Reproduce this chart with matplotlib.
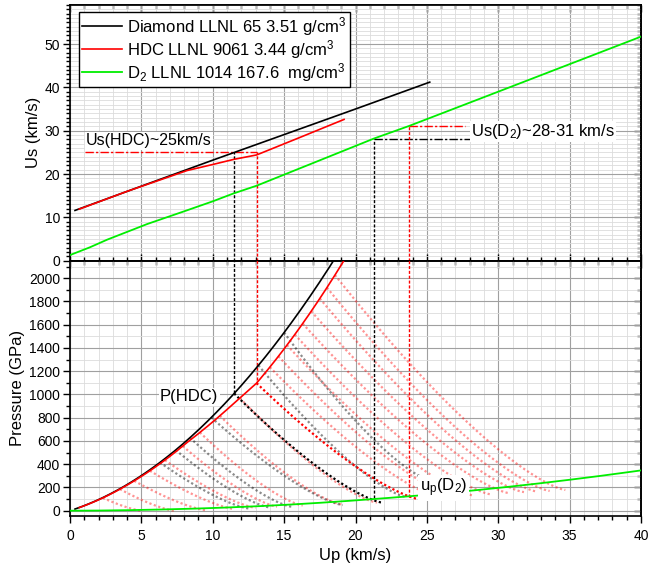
import numpy as np
import matplotlib
matplotlib.use('Agg')
import matplotlib.pyplot as plt
from matplotlib.ticker import MultipleLocator, NullFormatter

plt.rcParams['font.family'] = ['Liberation Sans', 'DejaVu Sans']
plt.rcParams['mathtext.default'] = 'regular'

# ---------------- data ----------------
dia_up = [0.35, 5, 10, 15, 20, 25.2]
dia_us = [11.6, 17.2, 23.2, 29.1, 35.0, 41.2]
dia_rho = 3.51

hdc_up = [0.65, 4, 8.2, 10, 11.5, 13.07, 16, 19.2]
hdc_us = [11.9, 16.0, 20.8, 22.2, 23.4, 24.4, 28.3, 32.6]
hdc_rho = 3.44

d2_up = [0, 1.4, 2.6, 5.4, 8, 10, 11.44, 13.07, 17, 21.3, 23.76, 30, 40]
d2_us = [1.3, 3.1, 4.85, 8.45, 11.4, 13.7, 15.5, 17.3, 22.5, 28.2, 31.1, 39.0, 51.7]
d2_rho = 0.1676

labels = ['Diamond LLNL 65 3.51 g/cm$^3$',
          'HDC LLNL 9061 3.44 g/cm$^3$',
          'D$_2$ LLNL 1014 167.6  mg/cm$^3$']

# release curves (start up on Hugoniot, end up, end pressure)
pink_u0 = [2.3, 3.5, 4.5, 5.6, 6.65, 7.9, 9.1, 10.5, 11.9, 14.0, 14.6, 15.2, 15.75, 16.3, 16.9, 17.5, 18.0, 18.56]
pink_u1 = [5.0, 7.3, 9.5, 11.5, 13.0, 14.5, 16.3, 19.0, 21.5, 26.0, 27.0, 28.3, 29.5, 30.8, 31.8, 32.7, 33.6, 34.7]
pink_p1 = [0, 0, 5, 15, 25, 35, 45, 55, 70, 110, 120, 130, 140, 150, 160, 165, 170, 178]
gray_u0 = [6.3, 7.4, 8.4, 9.9, 13.2, 15.0]
gray_u1 = [12.5, 14.0, 15.5, 19.1, 23.5, 25.2]
gray_p1 = [20, 28, 35, 49, 120, 263]
key_hdc = (13.07, 24.5, 98)
key_dia = (11.5, 21.9, 69)

# marker lines
us_hdc_level = 25.0
hdc_cross_up = 13.07
dia_cross_up = 11.5
d2_black_up, d2_black_us, d2_black_end = 21.3, 28.1, 28.0
d2_red_up, d2_red_us, d2_red_end = 23.76, 31.0, 27.66
p_dia_cross, p_hdc_cross = 1008, 1120
p_d2_black, p_d2_red = 107, 120

# ---------------- helpers ----------------
def hug_p(x, up, us, rho):
    x = np.asarray(x, float)
    return rho * np.interp(x, up, us) * x

def release(u0, u1, p1, up, us, rho, n=1.35):
    p0 = float(hug_p(u0, up, us, rho))
    u = np.linspace(u0, u1, 80)
    t = (u1 - u) / (u1 - u0)
    return u, p1 + (p0 - p1) * t ** n

fig = plt.figure(figsize=(6.68, 5.67), dpi=100)
L = 70 / 668
W = (641 - 70) / 668
ax1 = fig.add_axes([L, 1 - 260.7 / 567, W, (260.7 - 5) / 567])
ax2 = fig.add_axes([L, 1 - 515.7 / 567, W, (515.7 - 260.7) / 567])

def style(ax, ymaj, ymin, bottom_dir, show_xlabels):
    ax.set_xlim(0, 40)
    ax.xaxis.set_major_locator(MultipleLocator(5))
    ax.xaxis.set_minor_locator(MultipleLocator(1))
    ax.yaxis.set_major_locator(MultipleLocator(ymaj))
    ax.yaxis.set_minor_locator(MultipleLocator(ymin))
    ax.set_axisbelow(True)
    ax.grid(which='major', color='#a0a0a0', lw=0.8)
    ax.grid(which='minor', color='#dcdcdc', lw=0.6)
    for s in ax.spines.values():
        s.set_linewidth(1.2)
    ax.tick_params(axis='y', which='both', direction='out', width=1.0, labelsize=10, pad=2)
    ax.tick_params(axis='x', which='both', direction=bottom_dir, width=1.0, labelsize=10, pad=4.5,
                   labelbottom=show_xlabels)
    ax.tick_params(which='major', length=5)
    ax.tick_params(which='minor', length=2.8)
    sx = ax.secondary_xaxis('top')
    sx.xaxis.set_major_locator(MultipleLocator(5))
    sx.xaxis.set_minor_locator(MultipleLocator(1))
    sx.xaxis.set_major_formatter(NullFormatter())
    sx.tick_params(which='both', direction='in', width=1.0)
    sx.tick_params(which='major', length=5)
    sx.tick_params(which='minor', length=2.8)
    sx.spines['top'].set_linewidth(1.2)
    sy = ax.secondary_yaxis('right')
    sy.yaxis.set_major_locator(MultipleLocator(ymaj))
    sy.yaxis.set_minor_locator(MultipleLocator(ymin))
    sy.yaxis.set_major_formatter(NullFormatter())
    sy.tick_params(which='both', direction='in', width=1.0)
    sy.tick_params(which='major', length=5)
    sy.tick_params(which='minor', length=2.8)
    sy.spines['right'].set_linewidth(1.2)

style(ax1, 10, 1, 'in', False)
style(ax2, 200, 100, 'out', True)
ax1.set_ylim(0, 59)
ax2.set_ylim(-43, 2150)

dotv = (0, (2.2, 1.3))
dashdot = (0, (6, 1.6, 1.6, 1.6))
dots = (0, (1, 1.1))

# ---------------- top panel ----------------
h1, = ax1.plot(dia_up, dia_us, color='black', lw=1.2, zorder=4)
h2, = ax1.plot(hdc_up, hdc_us, color='red', lw=1.2, zorder=4)
h3, = ax1.plot(d2_up, d2_us, color='#00ee00', lw=1.3, zorder=4)

ax1.plot([1.05, hdc_cross_up], [us_hdc_level, us_hdc_level], color='red', lw=1.0, ls=dashdot, zorder=3)
ax1.plot([hdc_cross_up, hdc_cross_up], [0, us_hdc_level], color='red', lw=1.0, ls=dotv, zorder=3)
ax1.plot([dia_cross_up, dia_cross_up], [0, us_hdc_level], color='black', lw=1.0, ls=dotv, zorder=3)
ax1.plot([d2_black_up, d2_black_end], [d2_black_us, d2_black_us], color='black', lw=1.0, ls=dashdot, zorder=3)
ax1.plot([d2_black_up, d2_black_up], [0, d2_black_us], color='black', lw=1.0, ls=dotv, zorder=3)
ax1.plot([d2_red_up, d2_red_end], [d2_red_us, d2_red_us], color='red', lw=1.0, ls=dashdot, zorder=3)
ax1.plot([d2_red_up, d2_red_up], [0, d2_red_us], color='red', lw=1.0, ls=dotv, zorder=3)

bb = dict(facecolor='white', edgecolor='none', pad=1)
ax1.text(1.12, 27.7, 'Us(HDC)~25km/s', fontsize=11.5, ha='left', va='center', bbox=bb, zorder=6)
ax1.text(28.12, 29.8, 'Us(D$_2$)~28-31 km/s', fontsize=12, ha='left', va='center', bbox=bb, zorder=6)

leg = ax1.legend([h1, h2, h3], labels, loc='upper left', bbox_to_anchor=(0.016, 0.974),
                 borderaxespad=0, fontsize=12, fancybox=False, framealpha=1,
                 edgecolor='black', handlelength=2.4, handletextpad=0.3,
                 labelspacing=0.0, borderpad=0.2)
leg.get_frame().set_linewidth(1.0)
leg.set_zorder(7)

ax1.set_ylabel('Us (km/s)', fontsize=12)
ax1.yaxis.set_label_coords(-0.05, 0.5)

# ---------------- bottom panel ----------------
for u0, u1, p1 in zip(pink_u0, pink_u1, pink_p1):
    u, p = release(u0, u1, p1, hdc_up, hdc_us, hdc_rho)
    ax2.plot(u, p, color='red', alpha=0.42, lw=1.6, ls=dots, zorder=2)
for u0, u1, p1 in zip(gray_u0, gray_u1, gray_p1):
    u, p = release(u0, u1, p1, dia_up, dia_us, dia_rho)
    ax2.plot(u, p, color='black', alpha=0.45, lw=1.6, ls=dots, zorder=2)
u, p = release(*key_hdc, hdc_up, hdc_us, hdc_rho)
ax2.plot(u, p, color='red', lw=1.6, ls=dots, zorder=2.5)
u, p = release(*key_dia, dia_up, dia_us, dia_rho)
ax2.plot(u, p, color='black', lw=1.6, ls=dots, zorder=2.5)

xd = np.linspace(dia_up[0], dia_up[-1], 300)
ax2.plot(xd, hug_p(xd, dia_up, dia_us, dia_rho), color='black', lw=1.2, zorder=4)
xh = np.linspace(hdc_up[0], hdc_up[-1], 300)
ax2.plot(xh, hug_p(xh, hdc_up, hdc_us, hdc_rho), color='red', lw=1.2, zorder=4)
xg = np.linspace(d2_up[0], d2_up[-1], 300)
ax2.plot(xg, hug_p(xg, d2_up, d2_us, d2_rho), color='#00ee00', lw=1.3, zorder=4)

ax2.plot([dia_cross_up, dia_cross_up], [p_dia_cross, 2200], color='black', lw=1.0, ls=dotv, zorder=3)
ax2.plot([hdc_cross_up, hdc_cross_up], [p_hdc_cross, 2200], color='red', lw=1.0, ls=dotv, zorder=3)
ax2.plot([d2_black_up, d2_black_up], [p_d2_black, 2200], color='black', lw=1.0, ls=dotv, zorder=3)
ax2.plot([d2_red_up, d2_red_up], [p_d2_red, 2200], color='red', lw=1.0, ls=dotv, zorder=3)

ax2.text(6.3, 980, 'P(HDC)', fontsize=12, ha='left', va='center', bbox=bb, zorder=6)
ax2.text(24.5, 195, 'u$_p$(D$_2$)', fontsize=12, ha='left', va='center', bbox=bb, zorder=6)

ax2.set_ylabel('Pressure (GPa)', fontsize=12)
ax2.yaxis.set_label_coords(-0.079, 0.5)
ax2.set_xlabel('Up (km/s)', fontsize=12)
ax2.xaxis.set_label_coords(0.5, -0.125)

fig.savefig('out.png', dpi=100)
